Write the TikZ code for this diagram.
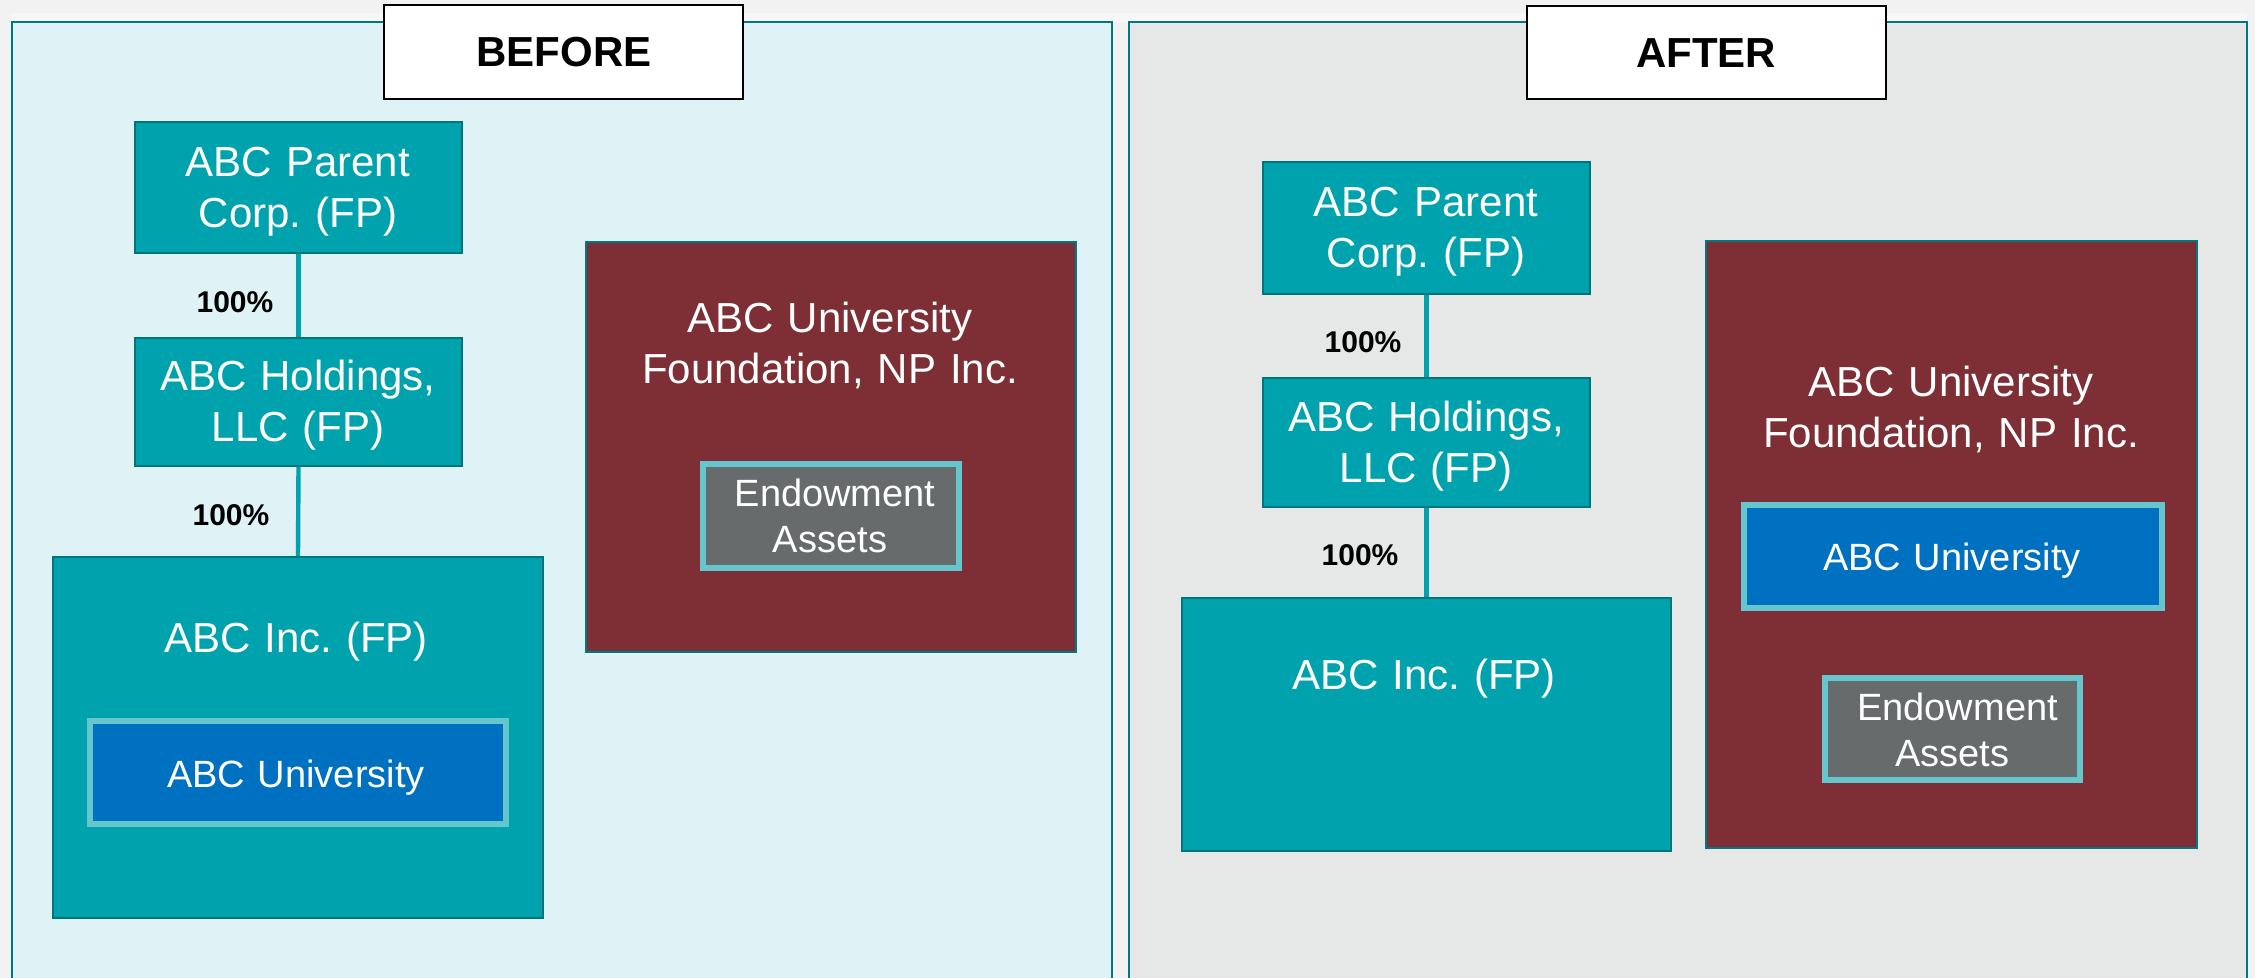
\documentclass[tikz,border=0pt]{standalone}
\usepackage{fontspec}
\setmainfont{Liberation Sans}
\usetikzlibrary{fit}
\frenchspacing

\definecolor{pagebg}{HTML}{F2F2F2}
\definecolor{stripbg}{HTML}{F7F7F7}
\definecolor{beforebg}{HTML}{DFF2F5}
\definecolor{afterbg}{HTML}{E6E8E7}
\definecolor{panelline}{HTML}{00797E}
\definecolor{entity}{HTML}{00A3AD}
\definecolor{entityline}{HTML}{00767C}
\definecolor{foundation}{HTML}{7D2F35}
\definecolor{university}{HTML}{0070C0}
\definecolor{assets}{HTML}{686B6C}
\definecolor{innerline}{HTML}{66C6CE}

\tikzset{
  panel/.style={draw=panelline, line width=1pt, inner sep=0pt},
  tagbox/.style={draw=black, fill=white, line width=1.2pt, inner sep=0pt},
  tagtext/.style={anchor=base, font=\fontsize{21}{25}\selectfont\bfseries},
  entitybox/.style={fill=entity, draw=entityline, line width=1pt, inner sep=0pt},
  npbox/.style={fill=foundation, draw=panelline, line width=1pt, inner sep=0pt},
  unibox/.style={fill=university, draw=innerline, line width=3pt, inner sep=0pt},
  assetbox/.style={fill=assets, draw=innerline, line width=3pt, inner sep=0pt},
  bigtext/.style={anchor=base, text=white, align=center, text width=200pt, inner sep=0pt,
    font=\fontsize{21}{25.5}\selectfont},
  smalltext/.style={anchor=base, text=white, align=center, text width=150pt, inner sep=0pt,
    font=\fontsize{19}{23}\selectfont},
  pct/.style={anchor=base, inner sep=0pt, font=\fontsize{15}{18}\selectfont\bfseries},
  own/.style={draw=entity, line width=2.2pt},
}

\begin{document}
\begin{tikzpicture}[x=0.5pt, y=-0.5pt]
  \useasboundingbox (0,0) rectangle (2255,978);
  \clip (0,0) rectangle (2255,978);
  \fill[pagebg] (0,0) rectangle (2255,978);
  \fill[stripbg] (11,13) rectangle (2247,22);

  % the two panels
  \node[panel, fill=beforebg, fit={(11.5,22) (1112,1010)}] (beforepanel) {};
  \node[panel, fill=afterbg, fit={(1129,22) (2247,1010)}] (afterpanel) {};

  % panel headings
  \node[tagbox, fit={(384,5) (743,99)}] (beforetag) {};
  \node[tagtext] (beforetitle) at (564,67) {BEFORE};
  \node[tagbox, fit={(1527,6) (1886,99)}] (aftertag) {};
  \node[tagtext] (aftertitle) at (1706,67.5) {AFTER};

  % ---------------- before ----------------
  \node[entitybox, fit={(135,122) (462,253)}] (bparent) {};
  \node[bigtext] (bparentt) at (298,177) {ABC Parent\\Corp. (FP)};
  \node[entitybox, fit={(135,338) (462,466)}] (bhold) {};
  \node[bigtext] (bholdt) at (298,391) {ABC Holdings,\\LLC (FP)};
  \node[entitybox, fit={(53,557) (543,918)}] (binc) {};
  \node[bigtext] (binct) at (296,652) {ABC Inc. (FP)};
  \node[unibox, fit={(90,721) (506,824)}] (buni) {};
  \node[smalltext] (bunit) at (296,787) {ABC University};

  \draw[own] (bparent.south) -- (bhold.north);
  \draw[own] (bhold.south) -- (binc.north);
  \node[pct] (bpct1) at (235,313) {100\%};
  \node[pct] (bpct2) at (231,525) {100\%};

  \node[npbox, fit={(586,242) (1076,652)}] (bfound) {};
  \node[bigtext] (bfoundt) at (830,333) {ABC University\\Foundation, NP Inc.};
  \node[assetbox, fit={(702.5,464) (958.5,568)}] (bassets) {};
  \node[smalltext] (bassetst) at (830,507) {\hspace*{5pt}Endowment\\Assets};

  % ---------------- after ----------------
  \node[entitybox, fit={(1263,162) (1590,294)}] (aparent) {};
  \node[bigtext] (aparentt) at (1426,217) {ABC Parent\\Corp. (FP)};
  \node[entitybox, fit={(1263,378) (1590,507)}] (ahold) {};
  \node[bigtext] (aholdt) at (1426,432) {ABC Holdings,\\LLC (FP)};
  \node[entitybox, fit={(1182,598) (1671,851)}] (ainc) {};
  \node[bigtext] (ainct) at (1424,689) {ABC Inc. (FP)};

  \draw[own] (aparent.south) -- (ahold.north);
  \draw[own] (ahold.south) -- (ainc.north);
  \node[pct] (apct1) at (1363,353) {100\%};
  \node[pct] (apct2) at (1360,566) {100\%};

  \node[npbox, fit={(1706,241) (2197,848)}] (afound) {};
  \node[bigtext] (afoundt) at (1951,397) {ABC University\\Foundation, NP Inc.};
  \node[unibox, fit={(1743.5,505) (2161.5,608)}] (auni) {};
  \node[smalltext] (aunit) at (1952,570) {ABC University};
  \node[assetbox, fit={(1825,677.5) (2080,779.5)}] (aassets) {};
  \node[smalltext] (aassetst) at (1952.5,720) {\hspace*{5pt}Endowment\\Assets};
\end{tikzpicture}
\end{document}
